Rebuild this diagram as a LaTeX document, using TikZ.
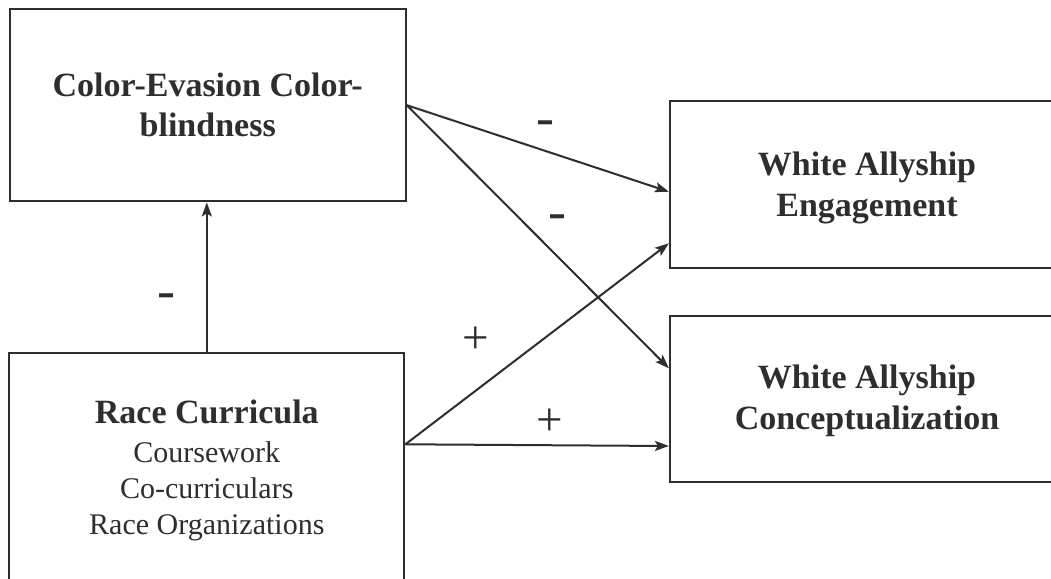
\documentclass[tikz,border=0pt]{standalone}
\usepackage{fontspec}
\setmainfont{Liberation Serif}
\usetikzlibrary{arrows.meta,calc}
\definecolor{ink}{HTML}{2E2E2E}
\begin{document}
\begin{tikzpicture}[x=1pt,y=-1pt,
  box/.style={draw=ink, line width=2.2pt, rectangle, inner sep=0pt, text=ink, align=center},
  txt/.style={text=ink, align=center, inner sep=0pt, font=\fontsize{34}{41}\selectfont\bfseries},
  link/.style={draw=ink, line width=2pt, -{Stealth[length=14pt,width=10pt,inset=3pt]}},
  sign/.style={text=ink, anchor=base, inner sep=0pt}
]
\useasboundingbox (0,0) rectangle (1051,578);
\clip (0,0) rectangle (1051,578);
\fill[white] (0,0) rectangle (1051,578);

\node[box, minimum width=396pt, minimum height=192.3pt,
      font=\fontsize{34}{40}\selectfont\bfseries] (cb) at (207.7,105.2)
  {Color-Evasion Color-\\blindness};

\node[box, minimum width=395pt, minimum height=234pt,
      font=\fontsize{30}{36}\selectfont] (race) at (206.8,470.3)
  {{\fontsize{34}{36}\selectfont\bfseries Race Curricula}\\[2.4pt]Coursework\\Co-curriculars\\Race Organizations};

\node[box, minimum width=394pt, minimum height=166.7pt] (eng) at (867,184.3) {};
\node[txt] (engt) at ([yshift=-4pt]eng.center) {White Allyship\\Engagement};

\node[box, minimum width=394pt, minimum height=166.7pt] (conc) at (867,399) {};
\node[txt] (conct) at ([yshift=-2pt]conc.center) {White Allyship\\Conceptualization};

\draw[link] (cb.east) -- ([yshift=-7.4pt]eng.west);
\draw[link] (cb.east) -- ([yshift=30.7pt]conc.west);
\draw[link] ([yshift=26pt]race.east) -- ([yshift=-59pt]eng.west);
\draw[link] ([yshift=26pt]race.east) -- ([yshift=-47pt]conc.west);
\draw[link] (race.north) -- (race.north |- cb.south);

\node[sign, font=\fontsize{54}{54}\selectfont] (m1) at (545,135.2) {-};
\node[sign, font=\fontsize{54}{54}\selectfont] (m2) at (557,229.2) {-};
\node[sign, font=\fontsize{54}{54}\selectfont] (m3) at (166,308.2) {-};
\node[sign, font=\fontsize{47}{47}\selectfont] (p1) at (476,353.8) {+};
\node[sign, font=\fontsize{47}{47}\selectfont] (p2) at (550,435.8) {+};
\end{tikzpicture}
\end{document}
